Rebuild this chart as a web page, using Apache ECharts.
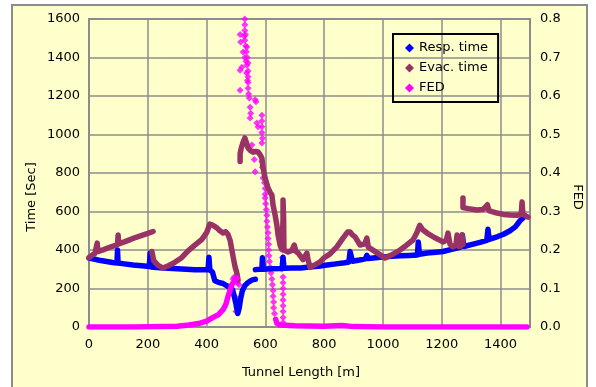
<!DOCTYPE html>
<html>
<head>
<meta charset="utf-8">
<script src="https://cdn.jsdelivr.net/npm/echarts@6/dist/echarts.min.js"></script>
<style>
  html, body { margin: 0; padding: 0; background: #fff; }
  #chart { width: 596px; height: 387px; }
</style>
</head>
<body>
<div id="chart"></div>
<script>
// Resp. time [Sec] vs tunnel length [m]
const respA = [[0,358],[20,352],[40,345],[60,340],[80,335],[95,332],[97,400],[99,332],[120,328],[150,322],[180,318],[205,314],[208,385],[211,312],[240,308],[270,305],[300,302],[330,300],[360,298],[390,298],[405,298],[408,362],[411,298],[420,285],[428,240],[440,232],[456,226],[468,215],[480,204],[488,195],[494,160],[500,120],[506,70],[511,100],[516,150],[522,190],[530,215],[540,230],[550,240],[558,246],[566,248]];
const respB = [[566,298],[580,300],[588,300],[590,360],[593,300],[620,302],[650,304],[657,305],[660,362],[663,305],[690,306],[720,306],[750,312],[780,316],[810,322],[840,328],[870,334],[884,338],[888,392],[892,392],[896,342],[920,348],[940,354],[945,372],[950,356],[975,360],[1000,364],[1030,368],[1060,370],[1090,372],[1117,374],[1120,442],[1124,378],[1150,384],[1180,388],[1204,392],[1230,402],[1262,414],[1270,478],[1275,418],[1300,428],[1330,440],[1353,450],[1357,508],[1361,455],[1390,470],[1410,482],[1432,500],[1450,520],[1466,552],[1483,577]];

// Evac. time [Sec]
const evacA = [[0,360],[10,372],[20,382],[26,388],[28,436],[30,392],[50,402],[70,414],[90,424],[97,428],[99,478],[101,432],[120,442],[140,454],[160,466],[180,476],[200,486],[218,496]];
const evacB = [[214,392],[220,345],[235,320],[252,306],[270,318],[292,336],[315,360],[337,396],[360,425],[384,455],[400,490],[411,535],[420,530],[435,515],[445,500],[456,488],[465,495],[473,480],[480,450],[486,400],[492,350],[497,312],[503,280],[507,244]];
const evacC = [[514,860],[514,900],[518,930],[524,960],[530,982],[536,955],[541,930],[550,915],[558,909],[567,912],[575,909],[582,895],[588,878],[592,826],[599,774],[609,722],[616,700],[622,686],[626,634],[633,582],[639,530],[643,478],[650,426],[655,405],[658,480],[660,560],[660,660],[662,560],[663,400],[677,390],[690,398],[698,426],[704,392],[711,385],[728,350],[741,384],[745,350],[752,310],[770,324],[786,338],[800,360],[820,380],[843,416],[864,462],[880,494],[888,494],[895,480],[905,468],[922,426],[938,432],[945,462],[950,415],[980,385],[1007,358],[1030,375],[1058,400],[1080,425],[1102,452],[1115,490],[1125,528],[1135,505],[1150,488],[1175,465],[1204,442],[1215,450],[1221,488],[1228,430],[1238,416],[1248,425],[1252,478],[1258,418],[1265,420],[1269,478],[1272,430]];
const evacD = [[1272,670],[1272,620],[1290,615],[1320,608],[1340,610],[1355,635],[1360,605],[1388,592],[1410,585],[1432,582],[1455,580],[1470,585],[1473,650],[1476,585],[1493,571]];

// FED (right axis)
const fedA = [[0,0],[150,0],[300,0.002],[340,0.005],[378,0.01],[400,0.015],[422,0.025],[440,0.032],[456,0.045],[466,0.06],[473,0.08],[480,0.095],[486,0.11],[497,0.122],[503,0.127]];
const fedTail = [[635,0.02],[639,0.01],[650,0.005],[700,0.003],[800,0.002],[860,0.004],[900,0.001],[1000,0],[1490,0]];
const fedDots = [
  [530,0.80],[530,0.785],[530,0.77],[528,0.755],[532,0.76],[514,0.76],[516,0.74],[530,0.745],[533,0.73],[537,0.727],[524,0.714],[535,0.715],[530,0.70],[538,0.70],[534,0.69],[541,0.686],[514,0.667],[520,0.675],[537,0.68],[541,0.665],[536,0.66],[541,0.65],[539,0.64],[541,0.635],[541,0.62],[514,0.615],[543,0.605],[545,0.595],[565,0.59],[568,0.585],[548,0.571],[550,0.555],[548,0.543],[571,0.53],[575,0.52],[588,0.55],[588,0.535],[588,0.52],[588,0.505],[590,0.49],[588,0.478],[554,0.473],[558,0.455],[562,0.435],[588,0.43],[590,0.415],[565,0.403],[592,0.387],[597,0.375],[599,0.36],[599,0.345],[599,0.335],
  [601,0.32],[603,0.305],[605,0.29],[605,0.275],[607,0.26],[609,0.245],[609,0.23],[611,0.215],[611,0.20],[612,0.185],[614,0.17],[616,0.155],[619,0.14],[622,0.125],[624,0.11],[626,0.095],[626,0.08],[628,0.065],[628,0.05],[631,0.035],
  [658,0.2],[658,0.18],[660,0.165],[656,0.15],[660,0.13],[660,0.115],[660,0.10],[660,0.085],[660,0.07],[660,0.055],[660,0.04],[660,0.025],[660,0.012],
  [480,0.10],[490,0.125],[494,0.13],[500,0.128],[503,0.12],[505,0.115],[510,0.11],[497,0.078],[500,0.065],[503,0.05],[500,0.04]
];

const xTicks = { min: 0, max: 1500, interval: 200 };
const timeTicks = { min: 0, max: 1600, interval: 200 };
const fedTicks = { min: 0, max: 0.8, interval: 0.1 };

const BLUE = "#0000FF", MAROON = "#993366", PINK = "#FF00FF";
const FONT = "DejaVu Sans";
const chart = echarts.init(document.getElementById("chart"));

function band(name, color, data, yAxisIndex) {
  return {
    name, type: "line", data, yAxisIndex: yAxisIndex || 0, symbol: "none",
    lineStyle: { color, width: 5.5, cap: "round", join: "round" },
    itemStyle: { color }, silent: true
  };
}

const labelStyle = { fontFamily: FONT, fontSize: 13, color: "#000" };

chart.setOption({
  animation: false,
  textStyle: { fontFamily: FONT, fontSize: 13, color: "#000" },
  graphic: [
    { type: "rect", shape: { x: 12, y: 5, width: 575, height: 400 }, z: -10,
      style: { fill: "#FFFFCC", stroke: "#8C8C8C", lineWidth: 2 } },
    { type: "text", x: 32, y: 197, rotation: Math.PI / 2,
      style: { text: "Time [Sec]", font: `13px "${FONT}"`, fill: "#000", textAlign: "center", textVerticalAlign: "middle" } },
    { type: "text", x: 577, y: 197, rotation: -Math.PI / 2,
      style: { text: "FED", font: `13px "${FONT}"`, fill: "#000", textAlign: "center", textVerticalAlign: "middle" } },
    { type: "text", x: 301, y: 373,
      style: { text: "Tunnel Length [m]", font: `13px "${FONT}"`, fill: "#000", textAlign: "center", textVerticalAlign: "middle" } }
  ],
  grid: { left: 89, right: 66, top: 19, bottom: 60, show: true, backgroundColor: "#FFFFCC", borderColor: "#8C8C8C", borderWidth: 2 },
  legend: {
    orient: "vertical", left: 393, top: 34, icon: "diamond",
    itemWidth: 9, itemHeight: 9, itemGap: 6, itemTextGap: 11,
    padding: [7, 10, 7, 12], borderColor: "#000", borderWidth: 2,
    textStyle: { fontFamily: FONT, fontSize: 13, lineHeight: 14, color: "#000" },
    data: ["Resp. time", "Evac. time", "FED"]
  },
  xAxis: {
    type: "value", ...xTicks,
    axisLine: { show: false }, axisTick: { show: false },
    axisLabel: { ...labelStyle, margin: 11, showMaxLabel: false, formatter: v => String(v) },
    splitLine: { show: true, lineStyle: { color: "#8C8C8C", width: 1.5 } }
  },
  yAxis: [
    { type: "value", ...timeTicks,
      axisLine: { show: false }, axisTick: { show: false },
      axisLabel: { ...labelStyle, margin: 9, formatter: v => String(v) },
      splitLine: { show: true, lineStyle: { color: "#8C8C8C", width: 1.5 } } },
    { type: "value", position: "right", ...fedTicks,
      axisLine: { show: false }, axisTick: { show: false }, splitLine: { show: false },
      axisLabel: { ...labelStyle, margin: 10, formatter: v => v.toFixed(1) } }
  ],
  series: [
    band("Resp. time", BLUE, respA),
    band("Resp. time", BLUE, respB),
    band("Evac. time", MAROON, evacA),
    band("Evac. time", MAROON, evacB),
    band("Evac. time", MAROON, evacC),
    band("Evac. time", MAROON, evacD),
    band("FED", PINK, fedA, 1),
    band("FED", PINK, fedTail, 1),
    { name: "FED", type: "scatter", yAxisIndex: 1, data: fedDots, symbol: "diamond", symbolSize: 7,
      itemStyle: { color: PINK }, silent: true }
  ]
});
window.addEventListener("resize", () => chart.resize());
</script>
</body>
</html>
